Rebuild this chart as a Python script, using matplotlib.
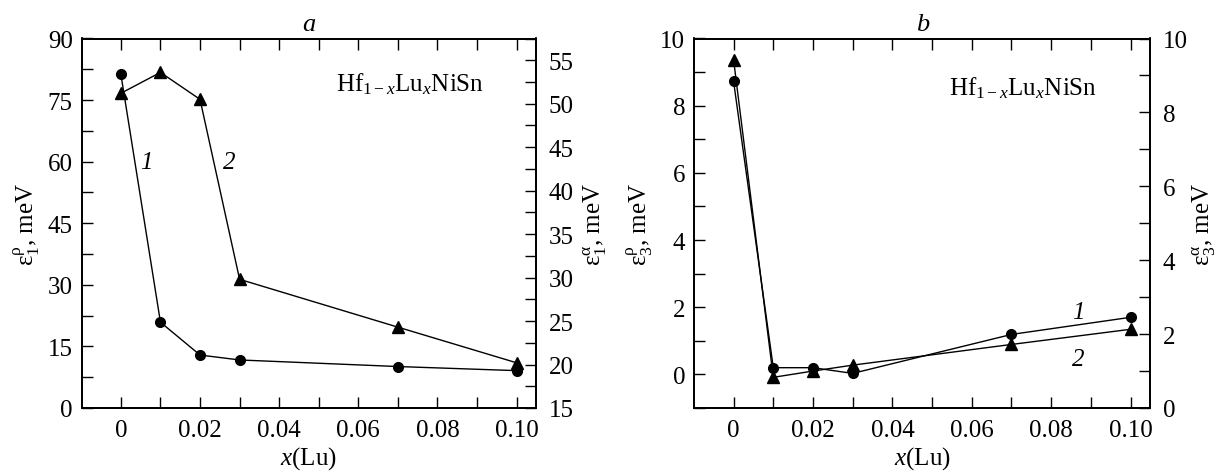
import numpy as np
import matplotlib
matplotlib.use('Agg')
import matplotlib.pyplot as plt
from matplotlib.ticker import MultipleLocator

plt.rcParams['font.family'] = ['Liberation Serif', 'DejaVu Serif']
plt.rcParams['mathtext.fontset'] = 'custom'
plt.rcParams['mathtext.rm'] = 'Liberation Serif'
plt.rcParams['mathtext.it'] = 'Liberation Serif:italic'
plt.rcParams['mathtext.bf'] = 'Liberation Serif:bold'

# composition x(Lu)
x = [0.0, 0.01, 0.02, 0.03, 0.07, 0.10]

# panel a
eps1_rho = [81.3, 20.9, 12.9, 11.7, 10.1, 9.1]      # curve 1, left axis
eps1_alpha = [51.2, 53.6, 50.5, 29.8, 24.3, 20.2]   # curve 2, right axis

# panel b
eps3_rho = [8.72, 0.20, 0.20, 0.03, 1.19, 1.70]     # curve 1, left axis
eps3_alpha = [9.42, 0.83, 1.00, 1.16, 1.72, 2.13]   # curve 2, right axis

xticks = [0, 0.02, 0.04, 0.06, 0.08, 0.10]
xticklabels = ['0', '0.02', '0.04', '0.06', '0.08', '0.10']

fs = 18
W, H = 1221, 477
fig = plt.figure(figsize=(W / 100, H / 100), dpi=100)


def style(ax):
    ax.tick_params(which='both', direction='in', labelsize=fs, width=1, pad=6.5)
    ax.tick_params(which='both', length=8)
    for s in ax.spines.values():
        s.set_linewidth(1.3)


def panel(left, right, ya, yb, title):
    ax = fig.add_axes([left / W, 1 - 409 / H, (right - left) / W, (409 - 39.5) / H])
    ax.plot(x, ya, 'k-', lw=1, marker='o', ms=7, zorder=3)
    ax.set_xlim(-0.0099, 0.1049)
    ax.set_xticks(xticks)
    ax.set_xticklabels(xticklabels)
    ax.xaxis.set_minor_locator(MultipleLocator(0.01))
    ax.set_xlabel(r'$x$(Lu)', fontsize=fs, labelpad=2)
    ax.set_title(title, fontsize=fs + 1, style='italic', pad=6)
    ax2 = ax.twinx()
    ax2.plot(x, yb, 'k-', lw=1, marker='^', ms=8, zorder=3)
    style(ax)
    style(ax2)
    ax.tick_params(which='both', top=True, labeltop=False)
    ax.tick_params(axis='x', pad=8)
    return ax, ax2


def ylab(sym, sub):
    return r'$\mathrm{\varepsilon}^{\mathrm{%s}}_{%s}$, meV' % (sym, sub)


# panel a
ax, ax2 = panel(81.7, 536, eps1_rho, eps1_alpha, 'a')
ax.set_ylim(0, 90)
ax.yaxis.set_major_locator(MultipleLocator(15))
ax.yaxis.set_minor_locator(MultipleLocator(7.5))
ax2.set_ylim(15, 57.5)
ax2.yaxis.set_major_locator(MultipleLocator(5))
ax2.yaxis.set_minor_locator(MultipleLocator(2.5))
ax2.tick_params(axis='y', pad=9)
ax.set_ylabel(ylab('ρ', '1'), fontsize=fs, labelpad=4)
ax2.set_ylabel(ylab('α', '1'), fontsize=fs, labelpad=6)
ax.text(0.0065, 60, '1', fontsize=fs, style='italic', ha='center', va='center')
ax.text(0.0274, 60, '2', fontsize=fs, style='italic', ha='center', va='center')
ax.text(0.073, 79, r'Hf$_{1-x}$Lu$_x$NiSn', fontsize=fs, ha='center', va='center')

# panel b
bx, bx2 = panel(694.3, 1150, eps3_rho, eps3_alpha, 'b')
bx.set_ylim(-1, 10)
bx.yaxis.set_major_locator(MultipleLocator(2))
bx.yaxis.set_minor_locator(MultipleLocator(1))
bx2.set_ylim(0, 10)
bx2.yaxis.set_major_locator(MultipleLocator(2))
bx2.yaxis.set_minor_locator(MultipleLocator(1))
bx2.tick_params(axis='y', pad=9)
bx.set_ylabel(ylab('ρ', '3'), fontsize=fs, labelpad=4)
bx2.set_ylabel(ylab('α', '3'), fontsize=fs, labelpad=2)
bx.text(0.0869, 1.86, '1', fontsize=fs, style='italic', ha='center', va='center')
bx.text(0.0869, 0.47, '2', fontsize=fs, style='italic', ha='center', va='center')
bx.text(0.073, 8.56, r'Hf$_{1-x}$Lu$_x$NiSn', fontsize=fs, ha='center', va='center')

fig.savefig('out.png', dpi=100)
